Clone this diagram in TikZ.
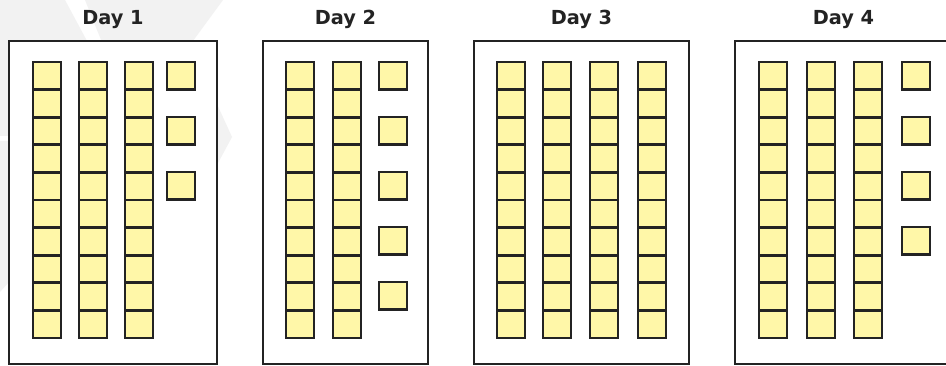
\documentclass[tikz,border=0pt]{standalone}
\usepackage{fontspec}
\setmainfont{DejaVu Sans}
\definecolor{cink}{HTML}{232323}
\definecolor{ccube}{HTML}{FFF7A8}
\definecolor{cmark}{HTML}{F2F2F2}
\tikzset{
  every picture/.style={x=0.75pt, y=-0.75pt},
  daybox/.style={draw=cink, fill=white, line width=2.1pt},
  cube/.style={draw=cink, fill=ccube, line width=2pt},
  daytitle/.style={font=\bfseries\fontsize{14.5}{16}\selectfont, text=cink, anchor=base},
}
% one rod of ten cubes, left edge at #1
\newcommand{\tenrod}[1]{\foreach \k in {0,...,9} {\draw[cube] (#1,{62+27.6*\k}) rectangle ++(28,27.6);}}
\newcommand{\onecube}[2]{\draw[cube] (#1,{62+55*#2}) rectangle ++(28,27.6);}

\begin{document}
\begin{tikzpicture}
  \clip (0,0) rectangle (946,366);
  \fill[white] (0,0) rectangle (946,366);
  % faint watermark behind day 1
  \fill[cmark] (0,0) -- (65,0) -- (138,136) -- (0,136) -- cycle;
  \fill[cmark] (85,0) -- (223,0) -- (190,45) -- (232,137) -- (190,215) -- (140,137) -- cycle;
  \fill[cmark] (0,141) -- (136,141) -- (0,292) -- cycle;
  % Day 1
  \draw[daybox] (9,41) rectangle (217,364);
  \node[daytitle] (day1) at (113,25) {Day 1};
  \foreach \x in {33,79,125} {\tenrod{\x}}
  \foreach \k in {0,1,2} {\onecube{167}{\k}}
  % Day 2
  \draw[daybox] (263,41) rectangle (428,364);
  \node[daytitle] (day2) at (345.5,25) {Day 2};
  \foreach \x in {286,333} {\tenrod{\x}}
  \foreach \k in {0,...,4} {\onecube{379}{\k}}
  % Day 3
  \draw[daybox] (474,41) rectangle (689,364);
  \node[daytitle] (day3) at (581.5,25) {Day 3};
  \foreach \x in {497,543,590,638} {\tenrod{\x}}
  % Day 4
  \draw[daybox] (735,41) rectangle (952,364);
  \node[daytitle] (day4) at (843.5,25) {Day 4};
  \foreach \x in {759,807,854} {\tenrod{\x}}
  \foreach \k in {0,...,3} {\onecube{902}{\k}}
\end{tikzpicture}
\end{document}
